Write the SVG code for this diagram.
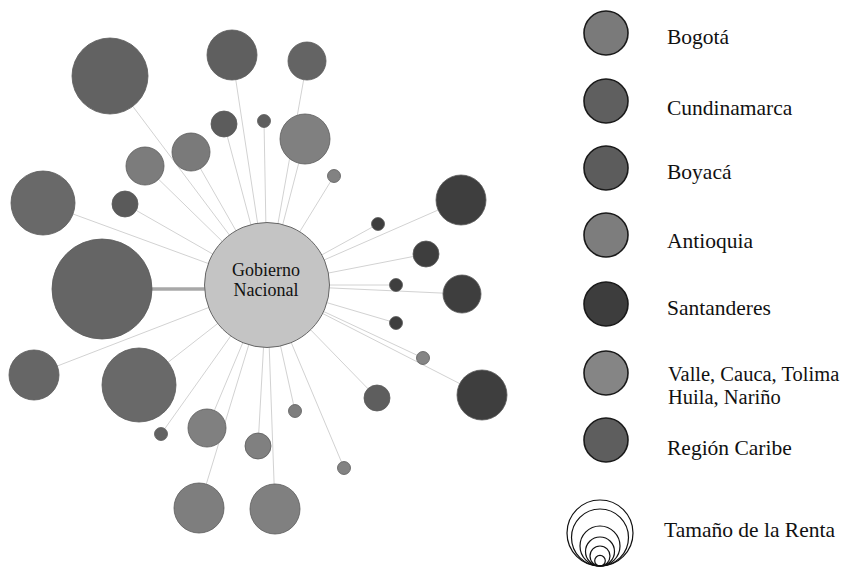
<svg xmlns="http://www.w3.org/2000/svg" width="858" height="569" viewBox="0 0 858 569">
<style>
  .edge { stroke: #d2d2d2; stroke-width: 1; fill: none; }
  .edge-strong { stroke: #a8a8a8; stroke-width: 3.5; fill: none; }
  .node { stroke: #5a5a5a; stroke-width: 0.8; }
  .lg { stroke: #1a1a1a; stroke-width: 1.6; }
  .txt { font-family: "Liberation Serif", "Times New Roman", serif; fill: #111; }
  .lt { font-size: 21.5px; }
  .lt2 { font-size: 20.5px; }
  .ct { font-size: 18px; text-anchor: middle; }
  .ring { fill: none; stroke: #111; stroke-width: 1.2; }
  .bog { fill: #7a7a7a; } .cun { fill: #5f5f5f; } .boy { fill: #5c5c5c; }
  .ant { fill: #7d7d7d; } .san { fill: #3d3d3d; } .val { fill: #858585; } .car { fill: #5e5e5e; }
</style>
<rect width="858" height="569" fill="#ffffff"/>
<g id="connectors">
  <line class="edge" x1="267" y1="285" x2="110" y2="76"/>
  <line class="edge" x1="267" y1="285" x2="232" y2="55"/>
  <line class="edge" x1="267" y1="285" x2="307" y2="61"/>
  <line class="edge" x1="267" y1="285" x2="224" y2="124"/>
  <line class="edge" x1="267" y1="285" x2="264" y2="121"/>
  <line class="edge" x1="267" y1="285" x2="305" y2="139"/>
  <line class="edge" x1="267" y1="285" x2="191" y2="152"/>
  <line class="edge" x1="267" y1="285" x2="145" y2="166"/>
  <line class="edge" x1="267" y1="285" x2="334" y2="176"/>
  <line class="edge" x1="267" y1="285" x2="125" y2="204"/>
  <line class="edge" x1="267" y1="285" x2="43" y2="203"/>
  <line class="edge-strong" x1="267" y1="289" x2="102" y2="289"/>
  <line class="edge" x1="267" y1="285" x2="34" y2="375"/>
  <line class="edge" x1="267" y1="285" x2="139" y2="385"/>
  <line class="edge" x1="267" y1="285" x2="461" y2="200"/>
  <line class="edge" x1="267" y1="285" x2="378" y2="224"/>
  <line class="edge" x1="267" y1="285" x2="426" y2="254"/>
  <line class="edge" x1="267" y1="285" x2="396" y2="285"/>
  <line class="edge" x1="267" y1="285" x2="462" y2="294"/>
  <line class="edge" x1="267" y1="285" x2="396" y2="323"/>
  <line class="edge" x1="267" y1="285" x2="423" y2="358"/>
  <line class="edge" x1="267" y1="285" x2="482" y2="395"/>
  <line class="edge" x1="267" y1="285" x2="377" y2="398"/>
  <line class="edge" x1="267" y1="285" x2="295" y2="411"/>
  <line class="edge" x1="267" y1="285" x2="161" y2="434"/>
  <line class="edge" x1="267" y1="285" x2="207" y2="428"/>
  <line class="edge" x1="267" y1="285" x2="258" y2="446"/>
  <line class="edge" x1="267" y1="285" x2="344" y2="468"/>
  <line class="edge" x1="267" y1="285" x2="199" y2="508"/>
  <line class="edge" x1="267" y1="285" x2="275" y2="509"/>
</g>
<g id="nodes">
  <g id="n1"><circle class="node" cx="110" cy="76" r="38" fill="#626262"/></g>
  <g id="n2"><circle class="node" cx="232" cy="55" r="25" fill="#5f5f5f"/></g>
  <g id="n3"><circle class="node" cx="307" cy="61" r="19" fill="#646464"/></g>
  <g id="n4"><circle class="node" cx="224" cy="124" r="13" fill="#5c5c5c"/></g>
  <g id="n5"><circle class="node" cx="264" cy="121" r="6.5" fill="#5e5e5e"/></g>
  <g id="n6"><circle class="node" cx="305" cy="139" r="25" fill="#808080"/></g>
  <g id="n7"><circle class="node" cx="191" cy="152" r="19" fill="#7a7a7a"/></g>
  <g id="n8"><circle class="node" cx="145" cy="166" r="19" fill="#7c7c7c"/></g>
  <g id="n9"><circle class="node" cx="334" cy="176" r="6.5" fill="#828282"/></g>
  <g id="n10"><circle class="node" cx="125" cy="204" r="13" fill="#5a5a5a"/></g>
  <g id="n11"><circle class="node" cx="43" cy="203" r="32" fill="#696969"/></g>
  <g id="n12"><circle class="node" cx="102" cy="289" r="50" fill="#656565"/></g>
  <g id="n13"><circle class="node" cx="34" cy="375" r="25" fill="#666666"/></g>
  <g id="n14"><circle class="node" cx="139" cy="385" r="37" fill="#696969"/></g>
  <g id="n15"><circle class="node" cx="461" cy="200" r="25" fill="#3e3e3e"/></g>
  <g id="n16"><circle class="node" cx="378" cy="224" r="6.5" fill="#3e3e3e"/></g>
  <g id="n17"><circle class="node" cx="426" cy="254" r="13" fill="#3e3e3e"/></g>
  <g id="n18"><circle class="node" cx="396" cy="285" r="6.5" fill="#3e3e3e"/></g>
  <g id="n19"><circle class="node" cx="462" cy="294" r="19" fill="#3e3e3e"/></g>
  <g id="n20"><circle class="node" cx="396" cy="323" r="6.5" fill="#3e3e3e"/></g>
  <g id="n21"><circle class="node" cx="423" cy="358" r="6.5" fill="#858585"/></g>
  <g id="n22"><circle class="node" cx="482" cy="395" r="25" fill="#3e3e3e"/></g>
  <g id="n23"><circle class="node" cx="377" cy="398" r="13" fill="#5e5e5e"/></g>
  <g id="n24"><circle class="node" cx="295" cy="411" r="6.5" fill="#7e7e7e"/></g>
  <g id="n25"><circle class="node" cx="161" cy="434" r="6.5" fill="#626262"/></g>
  <g id="n26"><circle class="node" cx="207" cy="428" r="19" fill="#808080"/></g>
  <g id="n27"><circle class="node" cx="258" cy="446" r="13" fill="#808080"/></g>
  <g id="n28"><circle class="node" cx="344" cy="468" r="6.5" fill="#838383"/></g>
  <g id="n29"><circle class="node" cx="199" cy="508" r="25" fill="#7e7e7e"/></g>
  <g id="n30"><circle class="node" cx="275" cy="509" r="25" fill="#808080"/></g>
  <g id="gobierno">
    <circle cx="267" cy="285" r="62.5" fill="#c4c4c4" stroke="#666666" stroke-width="1"/>
    <text class="txt ct" x="266" y="276">Gobierno</text>
    <text class="txt ct" x="266" y="296">Nacional</text>
  </g>
</g>
<g id="legend">
  <g id="lg-bogota"><circle class="lg bog" cx="606" cy="33" r="22"/><text class="txt lt" x="667" y="44">Bogotá</text></g>
  <g id="lg-cundinamarca"><circle class="lg cun" cx="606" cy="101" r="22"/><text class="txt lt" x="667" y="115">Cundinamarca</text></g>
  <g id="lg-boyaca"><circle class="lg boy" cx="606" cy="168" r="22"/><text class="txt lt" x="667" y="179">Boyacá</text></g>
  <g id="lg-antioquia"><circle class="lg ant" cx="606" cy="235" r="22"/><text class="txt lt" x="667" y="248">Antioquia</text></g>
  <g id="lg-santanderes"><circle class="lg san" cx="606" cy="304" r="22"/><text class="txt lt" x="667" y="315">Santanderes</text></g>
  <g id="lg-valle"><circle class="lg val" cx="606" cy="373" r="22"/><text class="txt lt2" x="668" y="381">Valle, Cauca, Tolima</text><text class="txt lt2" x="668" y="404">Huila, Nariño</text></g>
  <g id="lg-caribe"><circle class="lg car" cx="606" cy="440" r="22"/><text class="txt lt" x="667" y="455">Región Caribe</text></g>
  <g id="lg-size">
    <circle class="ring" cx="600" cy="533" r="33"/>
    <circle class="ring" cx="600" cy="537.5" r="28.5"/>
    <circle class="ring" cx="600" cy="546" r="20"/>
    <circle class="ring" cx="600" cy="551.5" r="14.5"/>
    <circle class="ring" cx="600" cy="556" r="10"/>
    <circle class="ring" cx="600" cy="560.7" r="5.3"/>
    <text class="txt lt" x="664" y="537">Tamaño de la Renta</text>
  </g>
</g>
</svg>
